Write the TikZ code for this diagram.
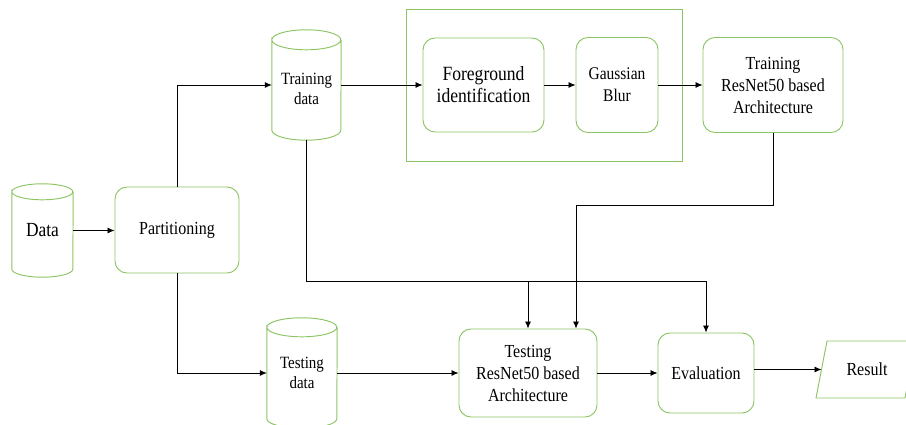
\documentclass[tikz,border=0pt]{standalone}
\usepackage{fontspec}
\setmainfont[FakeStretch=0.87]{Liberation Serif}
\usetikzlibrary{arrows.meta}
\definecolor{gr}{RGB}{140,196,100}
\newcommand\cylshape[3]{%
  \draw[gline] ([yshift=-#3pt]#1.north west) arc[start angle=180,end angle=-180,x radius=#2pt,y radius=#3pt]
    -- ([yshift=#3pt]#1.south west) arc[start angle=180,end angle=360,x radius=#2pt,y radius=#3pt]
    -- ([yshift=-#3pt]#1.north east);}
\begin{document}
\begin{tikzpicture}[x=1pt,y=-1pt,
  box/.style={draw=gr, line width=0.95pt, rounded corners=12pt, align=center, font=\fontsize{18.4}{22}\selectfont, inner sep=0pt},
  cylbox/.style={align=center, inner sep=0pt, font=\fontsize{17.2}{20}\selectfont},
  arr/.style={-{Latex[length=7pt,width=6pt]}, line width=0.8pt},
  gline/.style={draw=gr, line width=0.95pt}]
\useasboundingbox (0,0) rectangle (906,425);

\node[cylbox, minimum width=61, minimum height=93, font=\fontsize{20}{22}\selectfont] (data) at (42.5,230.5) {Data};
\node[box, minimum width=124, minimum height=86] (part) at (177,230) {Partitioning};
\node[cylbox, minimum width=69, minimum height=110] (train) at (306.5,85) {\rule{0pt}{8pt}\\[-8pt]Training\\data};
\node[cylbox, minimum width=70, minimum height=110] (test) at (302,373) {Testing\\data};
\cylshape{data}{30.5}{8}
\cylshape{train}{34.5}{10}
\cylshape{test}{35}{9.5}

\node[draw=gr, line width=0.95pt, minimum width=276, minimum height=152, inner sep=0pt] (grp) at (544,85) {};
\node[box, minimum width=121, minimum height=94, font=\fontsize{20.2}{22}\selectfont] (fg) at (483.5,85) {Foreground\\identification};
\node[box, minimum width=82, minimum height=95, font=\fontsize{17.8}{22}\selectfont] (gb) at (617,85) {Gaussian\\Blur};
\node[box, minimum width=140, minimum height=95] (trres) at (773,85) {Training\\ResNet50 based\\Architecture};
\node[box, minimum width=138, minimum height=88] (tsres) at (528,373) {Testing\\ResNet50 based\\Architecture};
\node[box, minimum width=96, minimum height=80] (eval) at (706,373) {Evaluation};
\node[font=\fontsize{18.4}{21}\selectfont, inner sep=0pt] (res) at (867,369.5) {Result};
\draw[gline] (827,341) -- (916,341) -- (905,398) -- (816,398) -- cycle;
\coordinate (resin) at (821.5,369.5);

\draw[arr] (data.east) -- (part.west |- data.east);
\draw[arr] (part.north) |- (train.west);
\draw[arr] (part.south) |- (test.west);
\draw[arr] (train.east) -- (fg.west);
\draw[arr] (fg) -- (gb);
\draw[arr] (gb) -- (trres);
\coordinate (k) at (576,205);
\draw[arr] (trres.south) |- (k) -- (tsres.north -| k);
\coordinate (h) at (0,281);
\draw[arr] (train.south) |- (eval.north |- h) -- (eval.north);
\draw[arr] (tsres.north |- h) -- (tsres.north);
\draw[arr] (test.east) -- (tsres.west);
\draw[arr] (tsres) -- (eval);
\draw[arr] (eval.east |- resin) -- (resin);
\end{tikzpicture}
\end{document}
